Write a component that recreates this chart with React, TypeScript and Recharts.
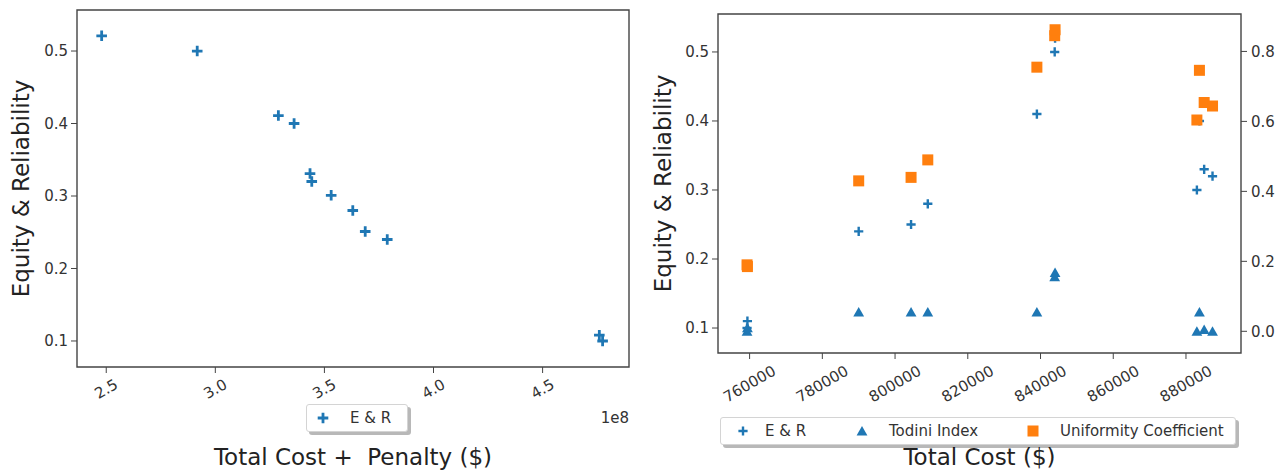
import React from "react";
import {
  ScatterChart, Scatter, XAxis, YAxis, Legend, Label, ReferenceArea,
} from "recharts";

const FONT = "'DejaVu Sans', sans-serif";
const BLUE = "#1f77b4";
const ORANGE = "#ff7f0e";
const INK = "#333333";
const FRAME = "#444444";

// left panel: total cost + penalty ($) vs equity & reliability
const COST_PENALTY = [2.479e8, 2.917e8, 3.289e8, 3.361e8, 3.434e8, 3.442e8, 3.531e8, 3.63e8, 3.687e8, 3.788e8, 4.76e8, 4.775e8];
const ER_PENALTY = [0.521, 0.5, 0.411, 0.4, 0.331, 0.32, 0.301, 0.28, 0.251, 0.24, 0.108, 0.1];
const COST_PENALTY_TICKS = [2.5e8, 3.0e8, 3.5e8, 4.0e8, 4.5e8];
const ER_TICKS = [0.1, 0.2, 0.3, 0.4, 0.5];

// right panel: total cost ($) vs three indices
const TOTAL_COST = [759300, 759400, 790000, 804400, 809000, 839000, 843900, 844000, 883000, 883700, 885000, 887300];
const ER = [0.1, 0.11, 0.24, 0.25, 0.28, 0.41, 0.5, 0.52, 0.3, 0.4, 0.33, 0.32];
const TODINI = [0.0, 0.01, 0.055, 0.055, 0.055, 0.055, 0.156, 0.168, 0.0, 0.055, 0.005, 0.0];
const UNIFORMITY = [0.19, 0.185, 0.43, 0.44, 0.49, 0.755, 0.845, 0.862, 0.604, 0.746, 0.654, 0.644];
const COST_TICKS = [760000, 780000, 800000, 820000, 840000, 860000, 880000];
const RIGHT_TICKS = [0, 0.2, 0.4, 0.6, 0.8];

const LEFT_X_DOMAIN = [2.366e8, 4.896e8];
const LEFT_Y_DOMAIN = [0.0641, 0.5566];
const COST_DOMAIN = [751310, 895130];
const ER_DOMAIN = [0.0638, 0.555];
const RIGHT_DOMAIN = [-0.062, 0.907];

const penaltyData = COST_PENALTY.map((x, i) => ({ x, y: ER_PENALTY[i] }));
const erData = TOTAL_COST.map((x, i) => ({ x, y: ER[i] }));
const todiniData = TOTAL_COST.map((x, i) => ({ x, y: TODINI[i] }));
const ucData = TOTAL_COST.map((x, i) => ({ x, y: UNIFORMITY[i] }));

type Mark = "plus" | "star" | "tri" | "square";

const mark = (kind: Mark, cx: number, cy: number) => {
  if (kind === "plus" || kind === "star") {
    const s = kind === "plus" ? 5.3 : 4.6;
    const t = kind === "plus" ? 1.4 : 1.2;
    const d = `M${cx - t},${cy - s}H${cx + t}V${cy - t}H${cx + s}V${cy + t}H${cx + t}V${cy + s}H${cx - t}V${cy + t}H${cx - s}V${cy - t}H${cx - t}Z`;
    return <path d={d} fill={BLUE} />;
  }
  if (kind === "tri") {
    return <path d={`M${cx},${cy - 5}L${cx + 5.4},${cy + 4.5}L${cx - 5.4},${cy + 4.5}Z`} fill={BLUE} />;
  }
  return <rect x={cx - 5.5} y={cy - 5.5} width={11} height={11} fill={ORANGE} />;
};

const shapeOf = (kind: Mark) => (p: any) => mark(kind, p.cx, p.cy);

const SlantTick = ({ x, y, payload, drop, fmt }: any) => (
  <g transform={`translate(${x},${y + drop}) rotate(-30)`}>
    <text textAnchor="middle" dominantBaseline="central" fontSize={15} fill={INK} fontFamily={FONT}>
      {fmt(payload.value)}
    </text>
  </g>
);

const tickStyle = { fontSize: 15, fill: INK, fontFamily: FONT };

type LegendItem = { name: string; kind: Mark; markX: number; textX: number };

const LegendBox = ({ items, width }: { items: LegendItem[]; width: number }) => (
  <div style={{ position: "relative", width, height: 28, fontFamily: FONT, fontSize: 15, color: INK }}>
    <div style={{ position: "absolute", left: 3, top: 3, width, height: 28, background: "rgba(0,0,0,0.28)", borderRadius: 3 }} />
    <div style={{ position: "absolute", left: 0, top: 0, width, height: 28, boxSizing: "border-box", background: "#fff", border: "1px solid #d4d4d4", borderRadius: 3 }} />
    {items.map((it) => (
      <React.Fragment key={it.name}>
        <svg style={{ position: "absolute", left: it.markX - 8, top: 6 }} width={16} height={16}>
          {mark(it.kind, 8, 8)}
        </svg>
        <span style={{ position: "absolute", left: it.textX, top: 0, lineHeight: "28px", whiteSpace: "pre" }}>{it.name}</span>
      </React.Fragment>
    ))}
  </div>
);

const LEFT_LEGEND: LegendItem[] = [{ name: "E & R", kind: "plus", markX: 17, textX: 44 }];
const RIGHT_LEGEND: LegendItem[] = [
  { name: "E & R", kind: "star", markX: 23, textX: 45 },
  { name: "Todini Index", kind: "tri", markX: 142, textX: 169 },
  { name: "Uniformity Coefficient", kind: "square", markX: 313, textX: 340 },
];

const yTitle = (dx: number) => ({ viewBox }: any) => {
  const cx = viewBox.x + dx;
  const cy = viewBox.y + viewBox.height / 2;
  return (
    <text x={cx} y={cy} transform={`rotate(-90 ${cx} ${cy})`} textAnchor="middle" dominantBaseline="central"
      fontSize={23} fill="#222" fontFamily={FONT}>Equity &amp; Reliability</text>
  );
};

const xTitle = (text: string, dy: number) => ({ viewBox }: any) => (
  <text x={viewBox.x + viewBox.width / 2} y={viewBox.y + dy} textAnchor="middle" dominantBaseline="central"
    fontSize={23} fill="#222" fontFamily={FONT} style={{ whiteSpace: "pre" }}>{text}</text>
);

const offsetText = ({ viewBox }: any) => (
  <text x={viewBox.x + viewBox.width} y={viewBox.y + 51} textAnchor="end" dominantBaseline="central"
    fontSize={15} fill={INK} fontFamily={FONT}>1e8</text>
);

const PenaltyChart = () => (
  <ScatterChart width={640} height={475} margin={{ top: 10, right: 11, left: 27, bottom: 68 }}>
    <XAxis type="number" dataKey="x" domain={LEFT_X_DOMAIN} ticks={COST_PENALTY_TICKS} allowDataOverflow
      height={40} axisLine={false} tickSize={6} tickLine={{ stroke: FRAME }} interval={0}
      tick={<SlantTick drop={14} fmt={(v: number) => (v / 1e8).toFixed(1)} />}>
      <Label content={xTitle("Total Cost +  Penalty ($)", 90)} />
      <Label content={offsetText} />
    </XAxis>
    <YAxis type="number" dataKey="y" domain={LEFT_Y_DOMAIN} ticks={ER_TICKS} allowDataOverflow width={50}
      axisLine={false} tickSize={6} tickMargin={3} tickLine={{ stroke: FRAME }} tick={tickStyle}
      tickFormatter={(v: number) => v.toFixed(1)} interval={0}>
      <Label content={yTitle(-6)} />
    </YAxis>
    <ReferenceArea x1={LEFT_X_DOMAIN[0]} x2={LEFT_X_DOMAIN[1]} y1={LEFT_Y_DOMAIN[0]} y2={LEFT_Y_DOMAIN[1]}
      fill="none" stroke={FRAME} strokeWidth={1.4} />
    <Scatter name="E & R" data={penaltyData} shape={shapeOf("plus")} isAnimationActive={false} />
    <Legend layout="vertical" align="center" verticalAlign="middle"
      wrapperStyle={{ position: "absolute", left: 306, top: 404, width: 102, height: 28 }}
      content={() => <LegendBox items={LEFT_LEGEND} width={102} />} />
  </ScatterChart>
);

const CostChart = () => (
  <ScatterChart width={646} height={475} margin={{ top: 14, right: 5, left: 28, bottom: 62 }}>
    <XAxis type="number" dataKey="x" domain={COST_DOMAIN} ticks={COST_TICKS} allowDataOverflow
      height={60} axisLine={false} tickSize={6} tickLine={{ stroke: FRAME }} interval={0}
      tick={<SlantTick drop={23} fmt={(v: number) => String(v)} />}>
      <Label content={xTitle("Total Cost ($)", 104)} />
    </XAxis>
    <YAxis yAxisId="left" type="number" dataKey="y" domain={ER_DOMAIN} ticks={ER_TICKS} allowDataOverflow width={50}
      axisLine={false} tickSize={6} tickMargin={3} tickLine={{ stroke: FRAME }} tick={tickStyle}
      tickFormatter={(v: number) => v.toFixed(1)} interval={0}>
      <Label content={yTitle(-5)} />
    </YAxis>
    <YAxis yAxisId="right" orientation="right" type="number" dataKey="y" domain={RIGHT_DOMAIN} ticks={RIGHT_TICKS}
      allowDataOverflow width={40} axisLine={false} tickSize={6} tickMargin={4} tickLine={{ stroke: FRAME }}
      tick={{ ...tickStyle, textAnchor: "start" }} tickFormatter={(v: number) => v.toFixed(1)} interval={0} />
    <ReferenceArea yAxisId="left" x1={COST_DOMAIN[0]} x2={COST_DOMAIN[1]} y1={ER_DOMAIN[0]} y2={ER_DOMAIN[1]}
      fill="none" stroke={FRAME} strokeWidth={1.4} />
    <Scatter name="E & R" yAxisId="left" data={erData} shape={shapeOf("star")} isAnimationActive={false} />
    <Scatter name="Todini Index" yAxisId="right" data={todiniData} shape={shapeOf("tri")} isAnimationActive={false} />
    <Scatter name="Uniformity Coefficient" yAxisId="right" data={ucData} shape={shapeOf("square")} isAnimationActive={false} />
    <Legend layout="vertical" align="center" verticalAlign="middle"
      wrapperStyle={{ position: "absolute", left: 80, top: 417, width: 516, height: 28 }}
      content={() => <LegendBox items={RIGHT_LEGEND} width={516} />} />
  </ScatterChart>
);

export default function App() {
  return (
    <div style={{ position: "absolute", left: 0, top: 0, width: 1286, height: 475, background: "#fff", fontFamily: FONT }}>
      <div style={{ position: "absolute", left: 0, top: 0 }}>
        <PenaltyChart />
      </div>
      <div style={{ position: "absolute", left: 640, top: 0 }}>
        <CostChart />
      </div>
    </div>
  );
}
